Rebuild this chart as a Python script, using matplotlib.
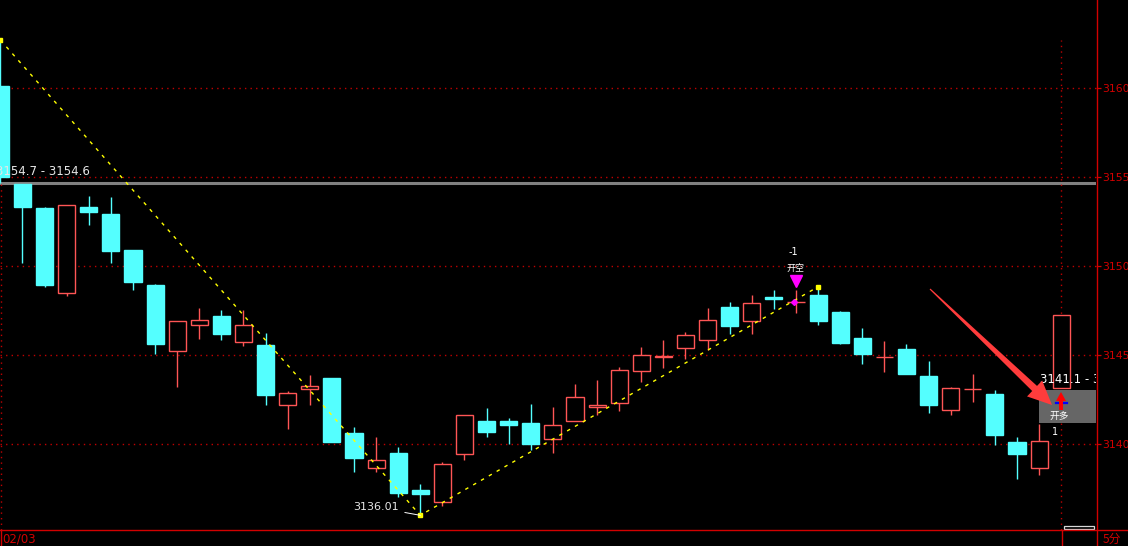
import matplotlib
matplotlib.use('Agg')
import matplotlib.pyplot as plt
from matplotlib.transforms import Affine2D
from matplotlib.patches import Rectangle, Polygon
from matplotlib.lines import Line2D
import numpy as np

plt.rcParams['font.family'] = ['DejaVu Sans', 'Noto Sans CJK SC']

# 5-minute bars
opens = [3160.13, 3154.62, 3153.28, 3148.52, 3153.33, 3152.94, 3150.92, 3148.95,
         3145.26, 3146.72, 3147.21, 3145.76, 3145.58, 3142.22, 3143.12, 3143.72,
         3140.63, 3138.69, 3139.51, 3137.43, 3136.78, 3139.47, 3141.31, 3141.31,
         3141.20, 3140.31, 3141.33, 3142.10, 3142.34, 3144.13, 3144.90, 3145.43,
         3145.88, 3147.71, 3146.94, 3148.28, 3147.97, 3148.39, 3147.43, 3145.97,
         3144.88, 3145.35, 3143.84, 3141.91, 3143.08, 3142.83, 3140.13, 3138.69,
         3143.15]
highs = [3162.71, 3154.62, 3153.33, 3153.43, 3153.95, 3153.89, 3150.92, 3149.01,
         3146.93, 3147.66, 3147.54, 3147.54, 3146.24, 3142.99, 3143.89, 3143.72,
         3140.97, 3140.41, 3139.85, 3137.77, 3139.01, 3141.63, 3142.04, 3141.48,
         3142.26, 3142.10, 3143.39, 3143.61, 3144.34, 3145.47, 3145.86, 3146.31,
         3147.66, 3147.99, 3148.39, 3148.67, 3148.67, 3148.85, 3147.49, 3146.53,
         3145.80, 3145.63, 3144.68, 3143.22, 3143.95, 3143.05, 3140.41, 3141.15,
         3147.26]
lows = [3154.70, 3150.19, 3148.85, 3148.35, 3152.32, 3150.19, 3148.67, 3145.07,
        3143.22, 3145.92, 3145.86, 3145.52, 3142.21, 3140.86, 3142.21, 3140.13,
        3138.44, 3138.44, 3137.06, 3136.01, 3136.53, 3139.12, 3140.41, 3140.02,
        3139.68, 3139.51, 3141.33, 3141.65, 3141.87, 3143.50, 3144.29, 3144.79,
        3145.30, 3146.20, 3146.20, 3147.60, 3147.38, 3146.72, 3145.65, 3144.53,
        3144.08, 3143.97, 3141.78, 3141.66, 3142.39, 3139.98, 3138.07, 3138.29,
        3143.15]
closes = [3155.00, 3153.33, 3148.95, 3153.43, 3153.07, 3150.86, 3149.13, 3145.65,
          3146.93, 3146.97, 3146.20, 3146.70, 3142.77, 3142.87, 3143.26, 3140.13,
          3139.23, 3139.10, 3137.28, 3137.21, 3138.88, 3141.63, 3140.69, 3141.08,
          3140.02, 3141.08, 3142.66, 3142.21, 3144.17, 3145.02, 3144.96, 3146.14,
          3146.98, 3146.65, 3147.94, 3148.16, 3148.00, 3146.94, 3145.71, 3145.09,
          3144.90, 3143.97, 3142.22, 3143.16, 3143.11, 3140.54, 3139.47, 3140.19,
          3147.26]

y_ticks = [3140, 3145, 3150, 3155, 3160]
zigzag_idx = [0, 19, 37]
prev_line = 3154.66
low_label = '3136.01'
range_label = '3154.7 - 3154.6'
last_label = '3141.1 - 3141.1'
sell_bar = 36
date_label = '02/03'
period_label = '5分'

CYAN = '#54FFFF'
RED = '#FF5555'
AXRED = '#D20000'
GRIDRED = '#C00000'
W, H = 1128, 546

fig = plt.figure(figsize=(W / 100, H / 100), dpi=100, facecolor='black')
ax = fig.add_axes([0, 16 / H, 1096 / W, 530 / H])
ax.set_facecolor('black')
# pixel coords measured from top-left of the picture
pix = Affine2D().scale(1 / W, -1 / H).translate(0, 1) + fig.transFigure

x = np.arange(len(opens))
o = np.array(opens)
c = np.array(closes)
up = c >= o

ax.set_xlim(-0.018, 49.575)
ax.set_ylim(3135.185, 3164.961)

# grid
for t in y_ticks:
    ax.axhline(t, color=GRIDRED, lw=1.0, linestyle=(0, (1, 3)), zorder=1)
ax.axhline(prev_line, color='#808080', lw=2.2, zorder=1)

# cursor lines
ax.vlines(x[-1], 3135.185, highs[0], color=GRIDRED, lw=1.0,
          linestyle=(0, (1, 3)), zorder=1)
ax.vlines(0.02, 3135.185, prev_line, color=GRIDRED, lw=1.0,
          linestyle=(0, (1, 3)), zorder=1)

# candles
wick_colors = [RED if u else CYAN for u in up]
ax.vlines(x, lows, highs, colors=wick_colors, lw=1.0, zorder=2)
heights = np.where(np.abs(c - o) < 0.02, 0.02, c - o)
ax.bar(x[up], heights[up], bottom=o[up], width=0.77, facecolor='black',
       edgecolor=RED, linewidth=1.0, zorder=3)
ax.bar(x[~up], heights[~up], bottom=o[~up], width=0.77, facecolor=CYAN,
       edgecolor=CYAN, linewidth=1.0, zorder=3)

# zigzag
zz_val = [highs[0], lows[19], highs[37]]
ax.plot(zigzag_idx, zz_val, color='#FFFF00', lw=1.0,
        linestyle=(0, (2.5, 4)), zorder=4)
ax.plot(zigzag_idx, zz_val, 's', color='#FFFF00', ms=2.5, zorder=4)

# labels in the chart
ax.text(-4, 171.5, range_label, transform=pix, color='#E6E6E6', fontsize=8.5,
        va='center', ha='left', clip_on=True, zorder=5)
ax.annotate(low_label, xy=(19, lows[19]), xytext=(-21, 8),
            textcoords='offset pixels', color='#E6E6E6', fontsize=8,
            ha='right', va='center',
            arrowprops=dict(arrowstyle='-', color='white', lw=0.7,
                            shrinkA=2, shrinkB=0), zorder=5)

# sell signal
ax.annotate('-1', xy=(sell_bar, highs[sell_bar]), xytext=(-3, 38),
            textcoords='offset pixels', color='white', fontsize=7,
            ha='center', va='center', zorder=6)
ax.annotate('开空', xy=(sell_bar, highs[sell_bar]), xytext=(0, 22),
            textcoords='offset pixels', color='white', fontsize=6.5,
            ha='center', va='center', family=['Noto Sans CJK SC'], zorder=6)
ax.plot([sell_bar], [highs[sell_bar]], 'v', color='#FF00FF', ms=8,
        transform=ax.transData + Affine2D().translate(0, 8.5), zorder=6)
ax.plot([sell_bar - 0.1], [closes[sell_bar]], 'D', color='#FF00FF', ms=3,
        zorder=6)

# right-side box with buy marker
ax.add_patch(Rectangle((1039, 390), 60, 33, transform=pix,
                       facecolor='#666666', edgecolor='none', zorder=6))
ax.text(1040, 379.5, last_label, transform=pix, color='white', fontsize=8.5,
        va='center', ha='left', clip_on=True, zorder=6)
ax.add_line(Line2D([1056, 1067], [403, 403], transform=pix, color='#0000FF',
                   lw=1.6, zorder=7))
ax.add_line(Line2D([1061, 1061], [400, 410], transform=pix, color='#FF0000',
                   lw=2.8, zorder=7, solid_capstyle='butt'))
ax.add_patch(Polygon([[1061, 392], [1056, 401], [1066, 401]], closed=True,
                     transform=pix, facecolor='#FF0000', edgecolor='none',
                     zorder=7))
ax.text(1059, 415.5, '开多', transform=pix, color='white', fontsize=7,
        va='center', ha='center', family=['Noto Sans CJK SC'], zorder=7)
ax.text(1055, 432, '1', transform=pix, color='white', fontsize=7,
        va='center', ha='center', zorder=7)

# big red pointer arrow
tail = np.array([930.0, 289.0])
tip = np.array([1052.0, 405.0])
u = (tip - tail) / np.linalg.norm(tip - tail)
n = np.array([-u[1], u[0]])
base = tip - u * 24
poly = [tail + n * 0.6, base + n * 3.5, base + n * 11, tip,
        base - n * 11, base - n * 3.5, tail - n * 0.6]
ax.add_patch(Polygon(poly, closed=True, transform=pix, facecolor='#FF3C3C',
                     edgecolor='none', zorder=8))

# axes and frame
ax.set_xticks([])
ax.yaxis.tick_right()
ax.set_yticks(y_ticks)
ax.set_yticklabels([str(t) for t in y_ticks])
ax.tick_params(axis='y', colors=AXRED, length=3.6, width=0.9, pad=1.0,
               labelsize=7.8)
for s in ax.spines.values():
    s.set_visible(False)

fig.add_artist(Line2D([1096.5, 1096.5], [0, H], transform=pix, color=AXRED,
                      lw=1))
fig.add_artist(Line2D([0, W], [530, 530], transform=pix, color=AXRED, lw=1))
fig.add_artist(Line2D([0.5, 0.5], [530, H], transform=pix, color=AXRED, lw=1))
fig.add_artist(Line2D([1061.5, 1061.5], [530, H], transform=pix, color=AXRED,
                      lw=1))
fig.add_artist(Rectangle((1064, 526), 30, 3, transform=pix, facecolor='none',
                         edgecolor='#D8D8D8', lw=0.9))
fig.text(2, 539, date_label, transform=pix, color=AXRED, fontsize=8.5,
         va='center', ha='left')
fig.text(1103, 539, period_label, transform=pix, color=AXRED, fontsize=8.5,
         va='center', ha='left', family=['Noto Sans CJK SC', 'DejaVu Sans'])

fig.savefig('out.png', dpi=100, facecolor='black')
